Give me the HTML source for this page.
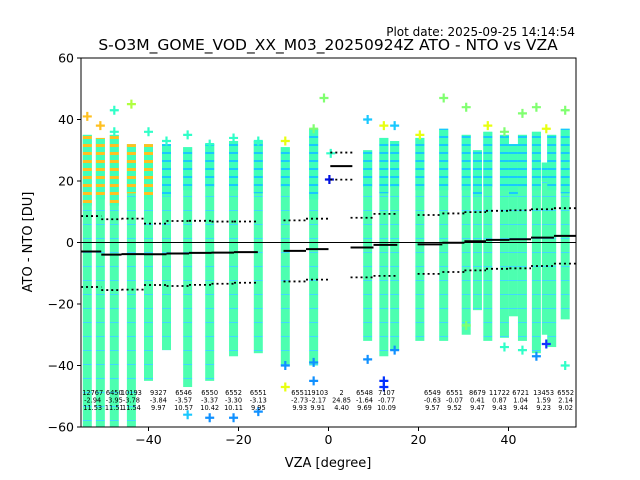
<!DOCTYPE html>
<html><head><meta charset="utf-8"><style>
body{margin:0;background:#fff;font-family:"DejaVu Sans","Liberation Sans",sans-serif}
svg{display:block}
</style></head><body>
<svg id="chart" width="640" height="480" xmlns="http://www.w3.org/2000/svg" font-family="DejaVu Sans, Liberation Sans, sans-serif">
<defs>
<pattern id="stripesC" width="4" height="8" patternUnits="userSpaceOnUse"><rect width="4" height="8" fill="#40ffb8"/><rect y="0" width="4" height="2" fill="#19c8ff"/></pattern>
<pattern id="stripesO" width="4" height="8" patternUnits="userSpaceOnUse"><rect width="4" height="8" fill="#40ffb8"/><rect y="0" width="4" height="3" fill="#ffc020"/></pattern>
<pattern id="stripesB" width="4" height="14" patternUnits="userSpaceOnUse"><rect width="4" height="14" fill="#4dffb0"/><rect y="0" width="4" height="1" fill="#40d8ff"/></pattern>
<clipPath id="plotclip"><rect x="81" y="58" width="495" height="369"/></clipPath>
</defs>
<text x="575" y="36" text-anchor="end" font-size="12">Plot date: 2025-09-25 14:14:54</text>
<text x="328" y="50" text-anchor="middle" font-size="15.5">S-O3M_GOME_VOD_XX_M03_20250924Z ATO - NTO vs VZA</text>
<g id="cols" clip-path="url(#plotclip)"></g>
<g id="marks" clip-path="url(#plotclip)"></g>
<g id="stats"></g>
<g id="axes"></g>
<text x="328" y="467" text-anchor="middle" font-size="13">VZA [degree]</text>
<text transform="translate(32,242) rotate(-90)" text-anchor="middle" font-size="13">ATO - NTO [DU]</text>
</svg>
<script>
// scatter column data (VZA centre, top value, bottom value)
const colX = [-53.6,-50.7,-47.6,-43.8,-40,-36,-31.3,-26.4,-21.1,-15.6,-9.6,-3.3,8.7,12.3,14.7,20.3,25.6,30.6,33.1,35.4,39.1,41.1,43.1,46.2,48.4,49.6,52.6];
const colTop = [35,34,35,32,32,32,31,32,33,33,31,37,30,34,33,34,37,35,30,36,35,32,35,36,26,35,37];
const colBottom = [-60,-60,-60,-60,-45,-35,-47,-45,-37,-36,-40,-40,-32,-37,-35,-32,-32,-30,-22,-32,-31,-24,-32,-36,-30,-34,-25];
const colBandBottom = [12,14,12,16,14,15,17,18,17,16,18,14,18,16,18,17,17,17,15,18,17,15,18,17,20,17,16];
// bin statistics
const binLo = [-55,-50.5,-46,-41,-36,-31,-26,-21,-10,-5,0.4,4.9,10,19.8,25.3,30.2,35,40.2,45,50.1];
const binHi = [-50.5,-46,-41,-36,-31,-26,-21,-15.7,-5,0,5.3,10,15.3,25.3,30.2,35,40.2,45,50.1,55];
const binCounts = [12767,6450,10193,9327,6546,6550,6552,6551,6551,19103,2,6548,7107,6549,6551,8679,11722,6721,13453,6552];
const binMeans = [-2.94,-3.95,-3.78,-3.84,-3.57,-3.37,-3.30,-3.13,-2.73,-2.17,24.85,-1.64,-0.77,-0.63,-0.07,0.41,0.87,1.04,1.59,2.14];
const binStds = [11.53,11.51,11.54,9.97,10.57,10.42,10.11,9.95,9.93,9.91,4.40,9.69,10.09,9.57,9.52,9.47,9.43,9.44,9.23,9.02];
const labelX = [-52.4,-47.6,-43.8,-37.8,-32.2,-26.4,-21.1,-15.6,-6.4,-2.4,2.9,8,12.9,23.1,28,33.1,38,42.7,47.8,52.7];
// outlier markers
const outX = [-53.6,-50.7,-47.6,-47.6,-43.8,-40,-36,-31.3,-26.4,-21.1,-15.6,-9.6,-3.3,-1,0.2,0.5,8.7,12.3,12.3,14.7,20.3,25.6,30.6,35.4,39.1,43.1,46.2,48.4,52.6,-31.3,-26.4,-21.1,-15.6,-9.6,-3.3,8.7,12.3,14.7,30.6,39.1,43.1,46.2,48.4,52.6,-9.6,-3.3];
const outY = [41,38,43,36,45,36,33,35,32,34,33,33,37,47,20.5,29,40,38,-47,38,35,47,44,38,36,42,44,37,43,-56,-57,-57,-55,-40,-45,-38,-45,-35,-27,-34,-35,-37,-33,-40,-47,-39];
const outC = ['#ffc020','#ffc020','#30ffc8','#30ffc8','#b0ff40','#30ffc8','#30ffc8','#30ffc8','#30ffc8','#30ffc8','#30ffc8','#e8ff10','#80ff70','#80ff70','#0010e0','#30ffc8','#19c8ff','#e8ff10','#0030ff','#19c8ff','#e8ff10','#80ff70','#80ff70','#e8ff10','#80ff70','#80ff70','#80ff70','#e8ff10','#80ff70','#19c8ff','#1090ff','#1090ff','#1090ff','#1090ff','#1090ff','#1090ff','#0030ff','#1090ff','#80ff70','#30ffc8','#30ffc8','#1090ff','#1030ff','#30ffc8','#e8ff10','#1090ff'];
const xTicks = [-40,-20,0,20,40];
const yTicks = [-60,-40,-20,0,20,40,60];

const NS='http://www.w3.org/2000/svg';
const X0=81,X1=576,Y0=58,Y1=427,XMIN=-55,XMAX=55,YMIN=-60,YMAX=60;
function xs(v){return X0+(v-XMIN)/(XMAX-XMIN)*(X1-X0);}
function ys(v){return Y1-(v-YMIN)/(YMAX-YMIN)*(Y1-Y0);}
function mk(tag,attrs,parent){const e=document.createElementNS(NS,tag);for(const k in attrs)e.setAttribute(k,attrs[k]);parent.appendChild(e);return e;}
const cols=document.getElementById('cols'),marks=document.getElementById('marks'),stats=document.getElementById('stats'),axes=document.getElementById('axes');
const W=9;
colX.forEach((v,i)=>{
  const cx=xs(v);
  const body=mk('rect',{x:cx-W/2,y:ys(colTop[i]),width:W,height:ys(colBottom[i])-ys(colTop[i]),fill:'url(#stripesB)'},cols);
  
  
  const band=mk('rect',{x:cx-W/2,y:ys(colTop[i]),width:W,height:ys(colBandBottom[i])-ys(colTop[i]),fill:v<-38?'url(#stripesO)':'url(#stripesC)'},cols);
  
  
});
outX.forEach((v,i)=>{
  const cx=xs(v),cy=ys(outY[i]);
  const p=mk('path',{d:`M${cx-4.5},${cy}H${cx+4.5}M${cx},${cy-4.5}V${cy+4.5}`,stroke:outC[i],'stroke-width':2.2,fill:'none'},marks);
  
  
});
const z=mk('line',{x1:X0,x2:X1,y1:ys(0),y2:ys(0),stroke:'#000','stroke-width':1},stats);


binMeans.forEach((m,i)=>{
  const a=xs(binLo[i]),b=xs(binHi[i]);
  const l=mk('line',{x1:a,x2:b,y1:ys(m),y2:ys(m),stroke:'#000','stroke-width':2},stats);
  
  
  [m+binStds[i],m-binStds[i]].forEach(s=>{
    const d=mk('line',{x1:a,x2:b,y1:ys(s),y2:ys(s),stroke:'#000','stroke-width':1.8,'stroke-dasharray':'2,3'},stats);
    
    
  });
  const t=mk('text',{x:xs(labelX[i]),y:395,'text-anchor':'middle','font-size':6.6},stats);
  
  
  [binCounts[i],binMeans[i].toFixed(2),binStds[i].toFixed(2)].forEach((s,k)=>{
    const ts=mk('tspan',{x:xs(labelX[i]),dy:k?7.5:0},t);ts.textContent=s;
  });
});
const fr=mk('rect',{x:X0,y:Y0,width:X1-X0,height:Y1-Y0,fill:'none',stroke:'#000','stroke-width':1},axes);


xTicks.forEach(v=>{
  mk('line',{x1:xs(v),x2:xs(v),y1:Y1,y2:Y1+4,stroke:'#000'},axes);
  const t=mk('text',{x:xs(v),y:Y1+17,'text-anchor':'middle','font-size':12.5},axes);
  t.textContent=v<0?'\u2212'+(-v):v;
  
  
});
yTicks.forEach(v=>{
  mk('line',{x1:X0-4,x2:X0,y1:ys(v),y2:ys(v),stroke:'#000'},axes);
  const t=mk('text',{x:X0-7,y:ys(v)+4.5,'text-anchor':'end','font-size':12.5},axes);
  t.textContent=v<0?'\u2212'+(-v):v;
  
  
});
</script>
</body></html>
